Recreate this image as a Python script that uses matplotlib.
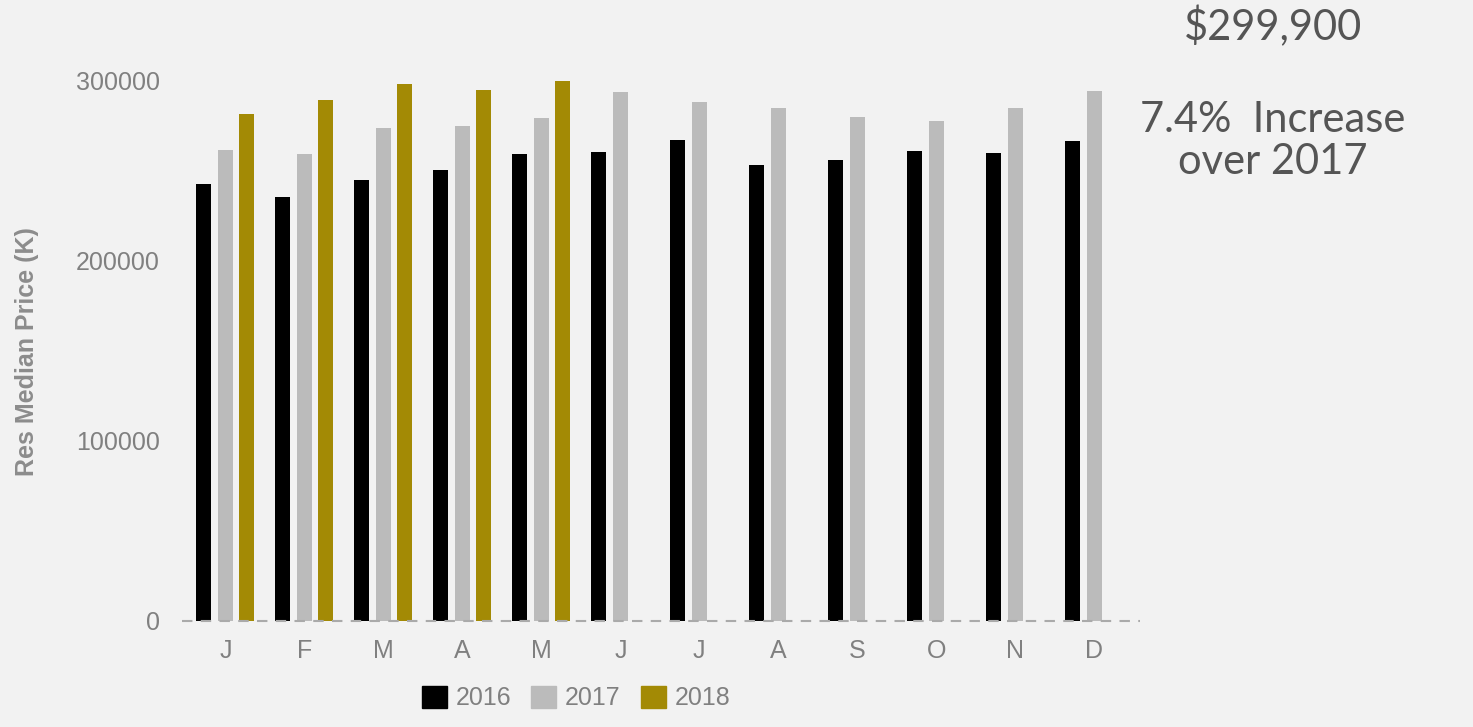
import numpy as np
import matplotlib
matplotlib.use("Agg")
import matplotlib.pyplot as plt
from matplotlib.patches import Patch

months = ["J", "F", "M", "A", "M", "J", "J", "A", "S", "O", "N", "D"]
years = ["2016", "2017", "2018"]
price_2016 = [242800, 235600, 245000, 250600, 259400, 260600, 267200, 253300, 256100, 261100, 260000, 266700]
price_2017 = [261700, 259400, 273900, 275000, 279400, 293900, 288300, 285000, 280000, 277800, 285000, 294400]
price_2018 = [281700, 289400, 298300, 295000, 299900]
colors = ["#000000", "#bbbbbb", "#a38a05"]

BG = "#f2f2f2"
GRAY = "#808080"
plt.rcParams["font.family"] = ["Liberation Sans", "DejaVu Sans"]

fig = plt.figure(figsize=(14.73, 7.27), dpi=100, facecolor=BG)
ax = fig.add_axes([182 / 1473, 106 / 727, (1140 - 182) / 1473, (621 - 63) / 727])
ax.set_facecolor(BG)

x = np.arange(len(months))
w, off = 0.19, 0.272
for i, vals in enumerate([price_2016, price_2017, price_2018]):
    xs = x[:len(vals)] + (i - 1) * off
    ax.bar(xs, vals, width=w, color=colors[i], zorder=2)

ax.set_xlim(-0.55, 11.58)
ax.set_ylim(0, 310000)
ax.set_yticks([0, 100000, 200000, 300000])
ax.set_yticklabels(["0", "100000", "200000", "300000"])
ax.set_xticks(x)
ax.set_xticklabels(months)
ax.tick_params(length=0, labelsize=18, colors=GRAY, pad=13)
ax.tick_params(axis="y", pad=16)
for s in ax.spines.values():
    s.set_visible(False)
ax.axhline(0, color="#aaaaaa", lw=1.5, ls=(0, (5, 4)), zorder=3, clip_on=False)

fig.text(27 / 1473, 1 - 352 / 727, "Res Median Price (K)", rotation=90,
         ha="center", va="center", fontsize=18, fontweight="bold", color="#8c8c8c")

handles = [Patch(facecolor=c, edgecolor=c) for c in colors]
fig.legend(handles, years, loc="center", bbox_to_anchor=(576 / 1473, 1 - 698 / 727),
           ncol=3, frameon=False, fontsize=18, labelcolor=GRAY,
           handlelength=1.0, handleheight=1.0, handletextpad=0.35, columnspacing=0.8)

fig.text(1273 / 1473, 1 - 27 / 727, "$299,900", ha="center", va="center",
         fontsize=30, color="#555555", family=["Lato", "DejaVu Sans"])
fig.text(1273 / 1473, 1 - 141 / 727, "7.4%  Increase\nover 2017", ha="center", va="center",
         fontsize=30, color="#555555", linespacing=1.12,
         family=["Lato", "DejaVu Sans"])

fig.savefig("out.png", dpi=100, facecolor=BG)
